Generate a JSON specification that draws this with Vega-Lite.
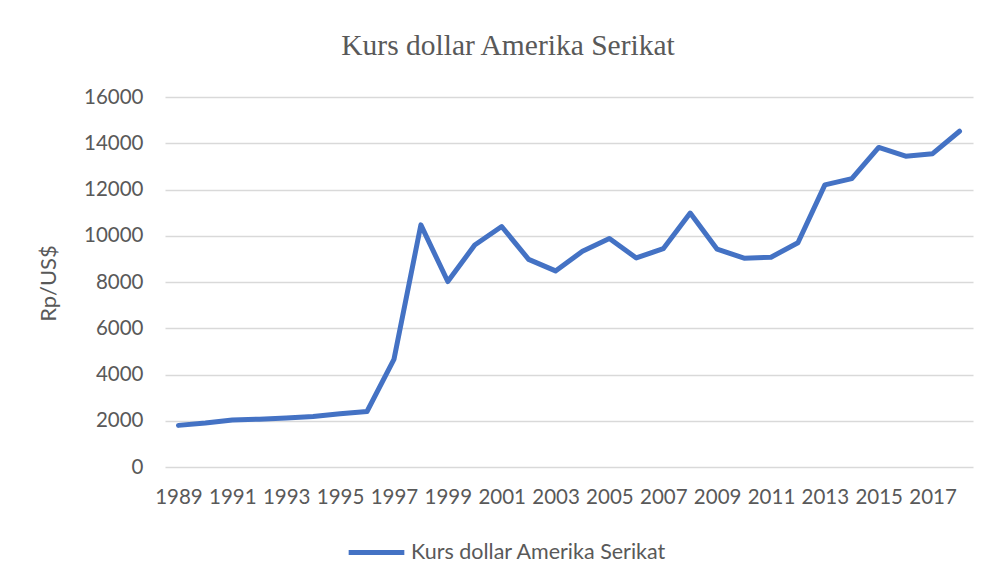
{
  "$schema": "https://vega.github.io/schema/vega-lite/v6.json",
  "autosize": {"type": "none"},
  "width": 808,
  "height": 370,
  "padding": {"left": 165, "top": 97, "right": 23, "bottom": 116},
  "background": "white",
  "config": {"view": {"stroke": null}},
  "title": {
    "text": "Kurs dollar Amerika Serikat",
    "font": "Liberation Serif",
    "fontSize": 29.5,
    "fontWeight": "normal",
    "color": "#595959",
    "anchor": "middle",
    "dx": -61,
    "offset": 26
  },
  "data": {
    "values": [
      {"year": 1989, "rate": 1800, "series": "Kurs dollar Amerika Serikat"},
      {"year": 1990, "rate": 1900, "series": "Kurs dollar Amerika Serikat"},
      {"year": 1991, "rate": 2030, "series": "Kurs dollar Amerika Serikat"},
      {"year": 1992, "rate": 2070, "series": "Kurs dollar Amerika Serikat"},
      {"year": 1993, "rate": 2120, "series": "Kurs dollar Amerika Serikat"},
      {"year": 1994, "rate": 2180, "series": "Kurs dollar Amerika Serikat"},
      {"year": 1995, "rate": 2300, "series": "Kurs dollar Amerika Serikat"},
      {"year": 1996, "rate": 2400, "series": "Kurs dollar Amerika Serikat"},
      {"year": 1997, "rate": 4650, "series": "Kurs dollar Amerika Serikat"},
      {"year": 1998, "rate": 10470, "series": "Kurs dollar Amerika Serikat"},
      {"year": 1999, "rate": 8020, "series": "Kurs dollar Amerika Serikat"},
      {"year": 2000, "rate": 9600, "series": "Kurs dollar Amerika Serikat"},
      {"year": 2001, "rate": 10400, "series": "Kurs dollar Amerika Serikat"},
      {"year": 2002, "rate": 8980, "series": "Kurs dollar Amerika Serikat"},
      {"year": 2003, "rate": 8480, "series": "Kurs dollar Amerika Serikat"},
      {"year": 2004, "rate": 9330, "series": "Kurs dollar Amerika Serikat"},
      {"year": 2005, "rate": 9880, "series": "Kurs dollar Amerika Serikat"},
      {"year": 2006, "rate": 9040, "series": "Kurs dollar Amerika Serikat"},
      {"year": 2007, "rate": 9440, "series": "Kurs dollar Amerika Serikat"},
      {"year": 2008, "rate": 10980, "series": "Kurs dollar Amerika Serikat"},
      {"year": 2009, "rate": 9420, "series": "Kurs dollar Amerika Serikat"},
      {"year": 2010, "rate": 9030, "series": "Kurs dollar Amerika Serikat"},
      {"year": 2011, "rate": 9070, "series": "Kurs dollar Amerika Serikat"},
      {"year": 2012, "rate": 9700, "series": "Kurs dollar Amerika Serikat"},
      {"year": 2013, "rate": 12200, "series": "Kurs dollar Amerika Serikat"},
      {"year": 2014, "rate": 12470, "series": "Kurs dollar Amerika Serikat"},
      {"year": 2015, "rate": 13820, "series": "Kurs dollar Amerika Serikat"},
      {"year": 2016, "rate": 13440, "series": "Kurs dollar Amerika Serikat"},
      {"year": 2017, "rate": 13550, "series": "Kurs dollar Amerika Serikat"},
      {"year": 2018, "rate": 14520, "series": "Kurs dollar Amerika Serikat"}
    ]
  },
  "mark": {"type": "line", "strokeWidth": 5, "strokeCap": "round", "strokeJoin": "round"},
  "encoding": {
    "x": {
      "field": "year",
      "type": "ordinal",
      "scale": {"padding": 0.5},
      "axis": {
        "title": null,
        "labelAngle": 0,
        "values": [1989, 1991, 1993, 1995, 1997, 1999, 2001, 2003, 2005, 2007, 2009, 2011, 2013, 2015, 2017],
        "domain": false,
        "ticks": false,
        "grid": false,
        "labelFont": "Lato",
        "labelFontSize": 20.5,
        "labelColor": "#595959",
        "labelPadding": 20,
        "labelOverlap": false
      }
    },
    "y": {
      "field": "rate",
      "type": "quantitative",
      "scale": {"domain": [0, 16000], "nice": false},
      "axis": {
        "title": "Rp/US$",
        "titleFont": "Lato",
        "titleFontSize": 22,
        "titleFontWeight": "normal",
        "titleColor": "#595959",
        "titleX": -105,
        "titleY": 186,
        "values": [0, 2000, 4000, 6000, 8000, 10000, 12000, 14000, 16000],
        "format": "d",
        "domain": false,
        "ticks": false,
        "gridColor": "#d9d9d9",
        "gridWidth": 1.5,
        "labelFont": "Lato",
        "labelFontSize": 20.5,
        "labelColor": "#595959",
        "labelPadding": 22
      }
    },
    "color": {
      "field": "series",
      "type": "nominal",
      "scale": {"range": ["#4472C4"]},
      "legend": {
        "title": null,
        "orient": "none",
        "legendX": 181,
        "legendY": 425,
        "symbolType": "stroke",
        "symbolSize": 3100,
        "symbolStrokeWidth": 5,
        "labelFont": "Lato",
        "labelFontSize": 21.5,
        "labelColor": "#595959",
        "labelOffset": 4,
        "labelLimit": 0
      }
    }
  }
}
